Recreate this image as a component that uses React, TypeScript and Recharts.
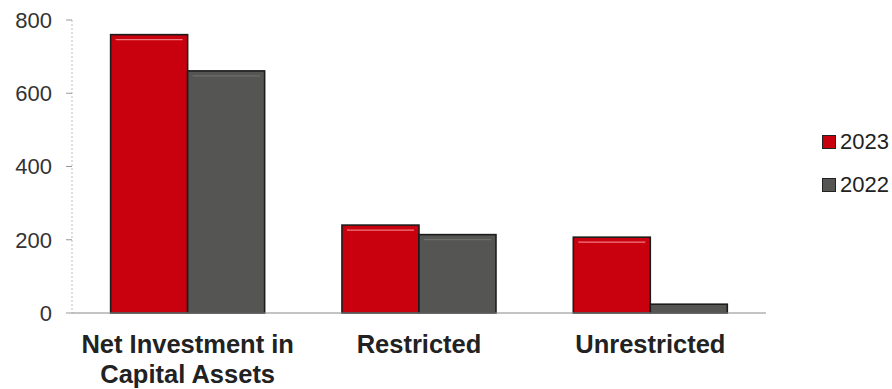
import React from 'react';
import { BarChart, Bar, XAxis, YAxis } from 'recharts';

const categories = ['Net Investment in Capital Assets', 'Restricted', 'Unrestricted'];
const values2023 = [760, 240, 207];
const values2022 = [661, 214, 24];
const yTicks = [0, 200, 400, 600, 800];
const seriesNames = ['2023', '2022'];

const data = categories.map((c, i) => ({ name: c, y2023: values2023[i], y2022: values2022[i] }));

const FONT = '"Liberation Sans", Arial, sans-serif';
const RED = '#c9000d';
const GRAY = '#555553';
const X_FONT_SIZE = 25.5;

let ctx: CanvasRenderingContext2D | null = null;
function measure(s: string) {
  if (!ctx) {
    const c = document.createElement('canvas');
    ctx = c.getContext('2d');
  }
  if (!ctx) return s.length * X_FONT_SIZE * 0.6;
  ctx.font = `bold ${X_FONT_SIZE}px "Liberation Sans", Arial, sans-serif`;
  return ctx.measureText(s).width;
}

function wrap(text: string, maxWidth: number) {
  const words = text.split(' ');
  const lines: string[] = [];
  let cur = '';
  for (const w of words) {
    const next = cur ? cur + ' ' + w : w;
    if (cur && measure(next) > maxWidth) {
      lines.push(cur);
      cur = w;
    } else {
      cur = next;
    }
  }
  if (cur) lines.push(cur);
  return lines;
}

const BarShape = (props: any) => {
  const { x, y, width, height, fill, highlight } = props;
  if (!height || height <= 0) return null;
  return (
    <g>
      <rect x={x} y={y} width={width} height={height} fill={fill} stroke="#1c1c1c" strokeWidth={1.6} />
      {height > 12 && (
        <line x1={x + 5} x2={x + width - 5} y1={y + 5} y2={y + 5} stroke={highlight} strokeWidth={1.2} />
      )}
    </g>
  );
};

const XTick = (props: any) => {
  const { x, y, payload } = props;
  const lines = wrap(String(payload.value), 225);
  return (
    <text
      x={x}
      y={y + 40}
      textAnchor="middle"
      fontFamily={FONT}
      fontWeight="bold"
      fontSize={X_FONT_SIZE}
      fill="#222"
    >
      {lines.map((l, i) => (
        <tspan key={i} x={x} dy={i === 0 ? 0 : 30}>
          {l}
        </tspan>
      ))}
    </text>
  );
};

export default function App() {
  return (
    <div style={{ position: 'absolute', left: 0, top: 0, width: 892, height: 389, background: '#fff' }}>
      <BarChart
        width={892}
        height={389}
        data={data}
        margin={{ top: 20, right: 126, bottom: 0, left: 0 }}
        barCategoryGap="16.7%"
        barGap={0}
      >
        <YAxis
          width={72}
          domain={[0, 800]}
          ticks={yTicks}
          axisLine={{ stroke: '#bdbdbd', strokeDasharray: '2 2' }}
          tickLine={{ stroke: '#999' }}
          tickSize={6}
          tickMargin={14}
          tick={{ fontFamily: FONT, fontSize: 22, fill: '#333' }}
        />
        <XAxis
          dataKey="name"
          height={76}
          axisLine={{ stroke: '#8a8a8a', strokeWidth: 1.2 }}
          tickLine={false}
          tickSize={0}
          tickMargin={0}
          interval={0}
          tick={<XTick />}
        />
        <Bar dataKey="y2023" name={seriesNames[0]} fill={RED} isAnimationActive={false} shape={<BarShape highlight="#f07a80" />} />
        <Bar dataKey="y2022" name={seriesNames[1]} fill={GRAY} isAnimationActive={false} shape={<BarShape highlight="#6e6e6c" />} />
      </BarChart>
      {seriesNames.map((s, i) => (
        <div
          key={s}
          style={{
            position: 'absolute',
            left: 822,
            top: (i === 0 ? 142 : 185) - 13,
            height: 26,
            display: 'flex',
            alignItems: 'center',
            fontFamily: FONT,
            fontSize: 22,
            color: '#222',
          }}
        >
          <span
            style={{
              display: 'inline-block',
              width: 12,
              height: 12,
              background: i === 0 ? RED : GRAY,
              border: '1px solid #222',
              marginRight: 4,
            }}
          />
          {s}
        </div>
      ))}
    </div>
  );
}
